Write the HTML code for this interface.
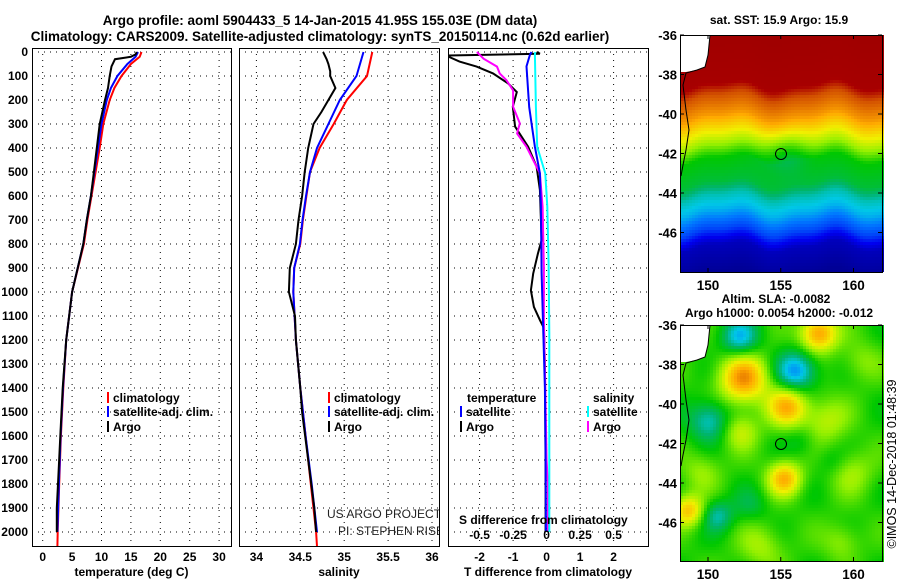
<!DOCTYPE html>
<html><head><meta charset="utf-8"><style>
body{margin:0;background:#fff;}
svg{display:block;font-family:"Liberation Sans",sans-serif;font-weight:bold;font-size:12px;}
</style></head><body>
<svg id="c" width="900" height="580" viewBox="0 0 900 580">
<rect width="900" height="580" fill="#fff"/>
<text x="320" y="25" text-anchor="middle" font-size="13.5">Argo profile: aoml 5904433_5 14-Jan-2015 41.95S 155.03E (DM data)</text>
<text x="320" y="41" text-anchor="middle" font-size="13.5">Climatology: CARS2009. Satellite-adjusted climatology: synTS_20150114.nc (0.62d earlier)</text>
<g id="p1"></g>
<g id="p2"></g>
<g id="p3"></g>
<g id="m1"></g>
<g id="m2"></g>
<text x="779" y="24" text-anchor="middle">sat. SST: 15.9 Argo: 15.9</text>
<text x="776" y="303" text-anchor="middle">Altim. SLA: -0.0082</text>
<text x="779" y="317" text-anchor="middle">Argo h1000: 0.0054 h2000: -0.012</text>
<text transform="translate(896,464) rotate(-90)" text-anchor="middle" font-weight="normal" font-size="12.5">©IMOS 14-Dec-2018 01:48:39</text>
</svg>
<script>
// ---- data ----
const yTicks=[0,100,200,300,400,500,600,700,800,900,1000,1100,1200,1300,1400,1500,1600,1700,1800,1900,2000];
const tTicks=[0,5,10,15,20,25,30];
const sTicks=[34,34.5,35,35.5,36];
const dTTicks=[-2,-1,0,1,2];
const dSTickLabels=["-0.5","-0.25","0","0.25","0.5"];
const dSTicks=[-0.5,-0.25,0,0.25,0.5];
const tempClimDepth=[0,20,50,100,150,200,300,400,500,600,700,800,1000,1200,1400,1600,1800,2000,2060];
const tempClim=[16.8,16.5,15,13.4,12.2,11.4,10.3,9.7,9.0,8.3,7.6,7.0,5.0,4.0,3.5,3.1,2.8,2.55,2.5];
const tempSatDepth=[0,20,50,100,150,200,300,400,500,600,700,800,1000,1200,1400,1600,1800,2000];
const tempSat=[16.2,15.8,14.4,12.7,11.6,10.9,10.0,9.4,8.8,8.2,7.5,6.9,5.0,4.0,3.45,3.05,2.75,2.5];
const tempArgoDepth=[0,10,20,30,60,100,150,200,300,400,500,600,700,800,1000,1200,1400,1600,1800,1900,2000];
const tempArgo=[16.0,15.8,15.0,12.3,11.7,11.4,11.1,10.6,9.7,9.2,8.7,8.2,7.5,6.9,5.0,4.0,3.4,3.0,2.6,2.4,2.4];
const salClimDepth=[0,100,200,300,400,500,600,700,800,900,1000,1200,1400,1600,1800,2000,2060];
const salClim=[35.32,35.26,35.03,34.88,34.72,34.61,34.57,34.53,34.5,34.43,34.42,34.45,34.5,34.56,34.62,34.68,34.69];
const salSatDepth=[0,50,100,200,300,400,500,600,700,800,900,1000,1200,1400,1600,1800,2000];
const salSat=[35.22,35.18,35.14,34.95,34.82,34.69,34.61,34.565,34.525,34.495,34.43,34.42,34.45,34.5,34.56,34.63,34.69];
const salArgoDepth=[0,30,50,80,100,150,200,250,300,400,500,600,700,800,900,1000,1100,1200,1400,1500,1700,1900,2000];
const salArgo=[34.76,34.8,34.82,34.84,34.84,34.9,34.82,34.74,34.65,34.59,34.55,34.52,34.48,34.45,34.38,34.37,34.44,34.45,34.5,34.52,34.59,34.66,34.68];
const dTSatDepth=[0,12,60,230,395,505,645,920,1170,1400,1700,2000];
const dTSat=[-0.45,-0.5,-0.6,-0.52,-0.35,-0.2,-0.17,-0.15,-0.1,-0.05,-0.03,-0.02];
const dSSatDepth=[0,12,230,395,450,506,645,880,1170,1500,1800,2000];
const dSSat=[-0.085,-0.087,-0.08,-0.07,-0.04,-0.01,0.005,0.015,0.02,0.02,0.02,0.02];
const dTArgoDepth=[0,7,15,40,61,89,131,167,228,311,395,478,575,784,840,923,993,1062,1117,1150,1300,1500,1800,2000];
const dTArgo=[-0.3,-0.2,-3,-2.6,-2.09,-1.6,-1.15,-0.89,-1.01,-0.94,-0.55,-0.3,-0.2,-0.15,-0.26,-0.4,-0.47,-0.38,-0.2,-0.08,-0.05,-0.04,-0.03,-0.03];
const dSArgoDepth=[0,28,61,89,117,160,228,297,340,395,506,645,900,1117,1400,1700,1800,2000];
const dSArgo=[-0.52,-0.47,-0.37,-0.35,-0.3,-0.25,-0.25,-0.2,-0.22,-0.15,-0.05,-0.03,-0.02,-0.02,-0.01,0.0,0.01,0.01];

const NS='http://www.w3.org/2000/svg';
function mk(parent,tag,attrs){const e=document.createElementNS(NS,tag);for(const k in attrs)e.setAttribute(k,attrs[k]);parent.appendChild(e);return e;}
const Y0=52, YS=0.24, TOP=48, BOT=546;
const yOf=d=>Y0+d*YS;
const xT=v=>42.7+v*5.88;
const xS=v=>256.4+(v-34)*87.8;
const xDT=v=>546.6+v*33.5;
const xDS=v=>546.6+v*134;

function panel(g,x0,x1,ticks,xf,labels,title,clipId){
  const svg=document.getElementById('c');
  const defs=mk(svg,'defs',{});const cp=mk(defs,'clipPath',{id:clipId});mk(cp,'rect',{x:x0,y:TOP,width:x1-x0,height:BOT-TOP});
  yTicks.forEach(d=>{const l=mk(g,'line',{x1:x0,x2:x1,y1:yOf(d),y2:yOf(d),stroke:'#000','stroke-dasharray':'1,5','stroke-width':1});
    });
  ticks.forEach((t,i)=>{const x=xf(t);
    const l=mk(g,'line',{x1:x,x2:x,y1:TOP,y2:BOT,stroke:'#000','stroke-dasharray':'1,5','stroke-width':1});
    
    if(labels){const tx=mk(g,'text',{x:x,y:561,'text-anchor':'middle'});tx.textContent=labels[i];
      }
  });
  const r=mk(g,'rect',{x:x0+0.5,y:TOP+0.5,width:x1-x0,height:BOT-TOP,fill:'none',stroke:'#000','stroke-width':1});
  
  const tt=mk(g,'text',{x:(x0+x1)/2,y:576,'text-anchor':'middle'});tt.textContent=title;
  
}
function series(g,depths,vals,xf,color,name,clipId){
  const pts=depths.map((d,i)=>xf(vals[i]).toFixed(1)+','+yOf(d).toFixed(1)).join(' ');
  const p=mk(g,'polyline',{points:pts,fill:'none',stroke:color,'stroke-width':2,'clip-path':'url(#'+clipId+')'});
  
}
function legend(g,x,y,color,label){
  const m=mk(g,'line',{x1:x,x2:x,y1:y-10,y2:y+1,stroke:color,'stroke-width':2});
  
  const t=mk(g,'text',{x:x+5,y:y});t.textContent=label;
  
}
const p1=document.getElementById('p1'),p2=document.getElementById('p2'),p3=document.getElementById('p3');
panel(p1,32,231,tTicks,xT,tTicks.map(String),'temperature (deg C)','cl1');
panel(p2,239,439,sTicks,xS,sTicks.map(String),'salinity','cl2');
panel(p3,448,648,dTTicks,xDT,dTTicks.map(String),'T difference from climatology','cl3');
yTicks.forEach(d=>{const t=mk(p1,'text',{x:28,y:yOf(d)+4,'text-anchor':'end'});t.textContent=d;
  });
series(p1,tempClimDepth,tempClim,xT,'#f00','temp-climatology-line','cl1');
series(p1,tempSatDepth,tempSat,xT,'#00f','temp-satellite-line','cl1');
series(p1,tempArgoDepth,tempArgo,xT,'#000','temp-argo-line','cl1');
series(p2,salClimDepth,salClim,xS,'#f00','sal-climatology-line','cl2');
series(p2,salSatDepth,salSat,xS,'#00f','sal-satellite-line','cl2');
series(p2,salArgoDepth,salArgo,xS,'#000','sal-argo-line','cl2');
series(p3,dTArgoDepth,dTArgo,xDT,'#000','dT-argo-line','cl3');
series(p3,dSArgoDepth,dSArgo,xDS,'#f0f','dS-argo-line','cl3');
series(p3,dTSatDepth,dTSat,xDT,'#00f','dT-satellite-line','cl3');
series(p3,dSSatDepth,dSSat,xDS,'#0ff','dS-satellite-line','cl3');
legend(p1,108,402,'#f00','climatology');legend(p1,108,416,'#00f','satellite-adj. clim.');legend(p1,108,431,'#000','Argo');
legend(p2,329,402,'#f00','climatology');legend(p2,329,416,'#00f','satellite-adj. clim.');legend(p2,329,431,'#000','Argo');
(function(){let t=mk(p3,'text',{x:467,y:402});t.textContent='temperature';
 t=mk(p3,'text',{x:593,y:402});t.textContent='salinity';})();
legend(p3,461,416,'#00f','satellite');legend(p3,461,431,'#000','Argo');
legend(p3,588,416,'#0ff','satellite');legend(p3,588,431,'#f0f','Argo');
(function(){
 const g=mk(p2,'g',{'clip-path':'url(#cl2)','font-weight':'normal','fill':'#222'});
 let t=mk(g,'text',{x:327,y:518});t.textContent='US ARGO PROJECT';
 t=mk(g,'text',{x:338,y:535});t.textContent='PI: STEPHEN RISER';
 t=mk(p3,'text',{x:459,y:524});t.textContent='S difference from climatology';
 dSTicks.forEach((v,i)=>{const s=mk(p3,'text',{x:xDS(v),y:539,'text-anchor':'middle'});s.textContent=dSTickLabels[i];
   });
})();

// ---- maps ----
const cmapStops=[[0,[0,0,128]],[0.15,[0,0,240]],[0.28,[0,120,255]],[0.35,[0,200,230]],[0.42,[0,180,110]],[0.5,[0,200,0]],[0.6,[150,240,0]],[0.68,[240,240,0]],[0.78,[255,170,0]],[0.88,[210,80,0]],[0.95,[170,0,0]],[1,[160,0,0]]];
function cmap(v){v=Math.max(0,Math.min(1,v));
 for(let i=1;i<cmapStops.length;i++){if(v<=cmapStops[i][0]){const a=cmapStops[i-1],b=cmapStops[i],f=(v-a[0])/(b[0]-a[0]);
  return 'rgb('+a[1].map((c,k)=>Math.round(c+(b[1][k]-c)*f)).join(',')+')';}}return 'rgb(160,0,0)';}
const MX0=680,MX1=882;
const lonTicks=[150,155,160];
const latTicks=[-36,-38,-40,-42,-44,-46];
const xLon=l=>708+(l-150)*14.55;
function mapFrame(g,y0,y1,yLat,name){
 const r=mk(g,'rect',{x:MX0+0.5,y:y0+0.5,width:MX1-MX0,height:y1-y0,fill:'none',stroke:'#000'});
 
 latTicks.forEach(l=>{const y=yLat(l);mk(g,'line',{x1:MX0,x2:MX0+4,y1:y,y2:y,stroke:'#000'});mk(g,'line',{x1:MX1-4,x2:MX1,y1:y,y2:y,stroke:'#000'});
  const t=mk(g,'text',{x:MX0-3,y:y+5,'text-anchor':'end','font-size':13});t.textContent=l;});
 lonTicks.forEach(l=>{const x=xLon(l);mk(g,'line',{x1:x,x2:x,y1:y1-4,y2:y1,stroke:'#000'});mk(g,'line',{x1:x,x2:x,y1:y0,y2:y0+4,stroke:'#000'});
  const t=mk(g,'text',{x:x,y:y1+18,'text-anchor':'middle','font-size':13.5});t.textContent=l;});
}
function land(g,y0){
 const p=mk(g,'polygon',{points:`${MX0},${y0} 710,${y0} 708,${y0+20} 705,${y0+32} 697,${y0+35} 686,${y0+37} ${MX0},${y0+37}`,fill:'#fff'});
 
 const c=mk(g,'polyline',{points:`710,${y0} 708,${y0+20} 705,${y0+32} 697,${y0+35} 686,${y0+38} 683,${y0+50} 686,${y0+75} 689,${y0+95} 686,${y0+115} 683,${y0+130} ${MX0+1},${y0+141}`,fill:'none',stroke:'#000'});
 
}
// SST map
(function(){
 const g=document.getElementById('m1');const y0=35,y1=272,cs=3;
 const yv=[[35,1.0],[82,0.97],[95,0.88],[115,0.8],[130,0.7],[145,0.6],[158,0.5],[182,0.46],[195,0.38],[210,0.33],[230,0.22],[245,0.08],[272,0.03]];
 function base(y){for(let i=1;i<yv.length;i++){if(y<=yv[i][0]){const a=yv[i-1],b=yv[i];return a[1]+(b[1]-a[1])*(y-a[0])/(b[0]-a[0]);}}return 0.03;}
 const cg=mk(g,'g',{});
 for(let y=y0;y<y1;y+=cs)for(let x=MX0;x<MX1;x+=cs){
  let v=base(y+5*Math.sin(x/16)+2*Math.sin(x/7.3));
  const dx=(x-781)/24,dy=(y-150)/20;v-=0.08*Math.exp(-dx*dx-dy*dy);
  mk(cg,'rect',{x:x,y:y,width:cs,height:cs,fill:cmap(v)});}
 land(g,y0);
 const c=mk(g,'circle',{cx:781,cy:154,r:5.5,fill:'none',stroke:'#000'});
 mapFrame(g,y0,y1,l=>35+(-36-l)*19.75,'sst-map');
})();
// SLA map
(function(){
 const g=document.getElementById('m2');const y0=325,y1=561,cs=3;
 const blobs=[[738,336,-0.18,13],[795,370,-0.22,14],[708,419,-0.16,14],[716,514,-0.13,11],[749,504,-0.06,12],[742,377,0.28,17],[817,332,0.28,13],[786,405,0.24,14],[783,477,0.24,12],[687,509,0.22,11],[739,430,0.12,13],[824,419,0.11,16],[850,470,0.09,16],[700,470,0.08,14],[760,545,0.09,16],[840,540,0.08,13],[860,360,0.07,14],[830,460,-0.05,11],[800,440,-0.05,11]];
 const cg=mk(g,'g',{});
 for(let y=y0;y<y1;y+=cs)for(let x=MX0;x<MX1;x+=cs){
  let v=0.52+0.03*Math.sin(x/11)*Math.cos(y/13);
  blobs.forEach(b=>{const dx=(x-b[0])/b[3],dy=(y-b[1])/b[3];v+=b[2]*Math.exp(-(dx*dx+dy*dy)/2);});
  mk(cg,'rect',{x:x,y:y,width:cs,height:cs,fill:cmap(v)});}
 land(g,y0);
 const c=mk(g,'circle',{cx:781,cy:444,r:5.5,fill:'none',stroke:'#000'});
 mapFrame(g,y0,y1,l=>325+(-36-l)*19.75,'sla-map');
})();
</script>
</body></html>
